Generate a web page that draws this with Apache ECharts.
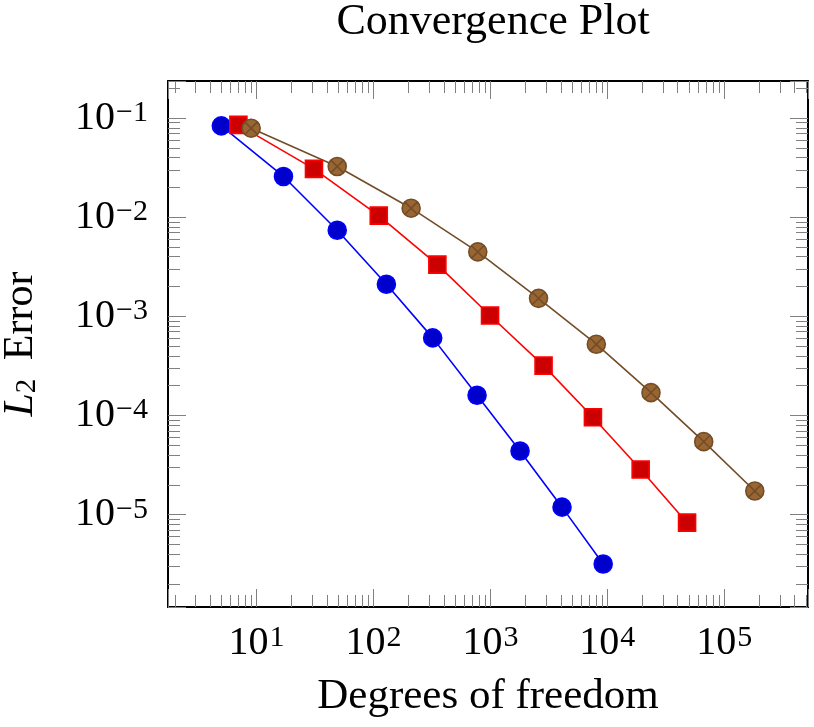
<!DOCTYPE html>
<html>
<head>
<meta charset="utf-8">
<script src="https://cdn.jsdelivr.net/npm/echarts@6/dist/echarts.min.js"></script>
<style>
html,body{margin:0;padding:0;background:#fff;}
#chart{width:814px;height:727px;}
</style>
</head>
<body>
<div id="chart"></div>
<script>
// data
var dofBlue = [5, 17, 49, 129, 321, 769, 1793, 4097, 9217];
var errBlue = [0.0836, 0.0258, 0.0074, 0.00211, 6.07e-4, 1.60e-4, 4.39e-5, 1.19e-5, 3.18e-6];
var dofRed = [7, 31, 111, 352, 993, 2849, 7530, 19280, 48060];
var errRed = [0.0855, 0.0308, 0.0104, 0.00333, 1.02e-3, 3.19e-4, 9.6e-5, 2.85e-5, 8.3e-6];
var dofBrown = [9, 49, 210, 780, 2581, 8050, 23620, 66700, 182400];
var errBrown = [0.0792, 0.0325, 0.01235, 0.00448, 1.52e-3, 5.24e-4, 1.70e-4, 5.45e-5, 1.73e-5];

var xMin = 1.75, xMax = 5.2e5;
var yMin = 1.17e-6, yMax = 0.237;

var FONT = "'Liberation Serif', 'DejaVu Serif', serif";
var tickColor = "#808080";
// circle with a cross (otimes)
var otimes = "path://M0,10 A10,10 0 1,1 20,10 A10,10 0 1,1 0,10 Z M2.93,2.93 L17.07,17.07 M17.07,2.93 L2.93,17.07";

function pairs(xs, ys){
    var out = [];
    for (var i = 0; i < xs.length; i++) out.push([xs[i], ys[i]]);
    return out;
}
function powLabel(v){
    var n = Math.round(Math.log(v) / Math.LN10);
    return "{b|10}{s|" + (n < 0 ? "\u2212" + (-n) : n) + "}";
}
var labelRich = {
    b: {fontFamily: FONT, fontSize: 40, lineHeight: 40, color: "#000"},
    s: {fontFamily: FONT, fontSize: 30, lineHeight: 12, verticalAlign: "top", color: "#000", padding: [0, 0, 0, 1]}
};

function logAxis(pos, min, max, showLabel){
    return {
        type: "log",
        logBase: 10,
        position: pos,
        min: min,
        max: max,
        axisLine: {show: true, onZero: false, lineStyle: {color: "#000", width: 2}},
        axisTick: {show: true, inside: true, length: 18, lineStyle: {color: tickColor, width: 1}},
        minorTick: {show: true, splitNumber: 9, length: 12, lineStyle: {color: tickColor, width: 1}},
        splitLine: {show: false},
        minorSplitLine: {show: false},
        axisLabel: {
            show: showLabel,
            showMinLabel: false,
            showMaxLabel: false,
            formatter: powLabel,
            rich: labelRich
        }
    };
}

var xBottom = logAxis("bottom", xMin, xMax, true);
xBottom.axisLabel.margin = 16;
xBottom.name = "Degrees of freedom";
xBottom.nameLocation = "middle";
xBottom.nameGap = 68;
xBottom.nameTextStyle = {fontFamily: FONT, fontSize: 43, color: "#000"};

var yLeft = logAxis("left", yMin, yMax, true);
yLeft.axisLabel.margin = 20;
yLeft.name = "{i|L}{sub|2} Error";
yLeft.nameLocation = "middle";
yLeft.nameGap = 126;
yLeft.nameTextStyle = {
    fontFamily: FONT, fontSize: 42, color: "#000",
    rich: {
        i: {fontFamily: FONT, fontSize: 42, fontStyle: "italic", color: "#000"},
        sub: {fontFamily: FONT, fontSize: 29, verticalAlign: "bottom", color: "#000", padding: [0, 8, 0, 0]}
    }
};

var chart = echarts.init(document.getElementById("chart"));
chart.setOption({
    animation: false,
    backgroundColor: "#fff",
    title: {
        text: "Convergence Plot",
        left: 488,
        top: -5,
        textAlign: "center",
        textStyle: {fontFamily: FONT, fontSize: 44, fontWeight: "normal", color: "#000"}
    },
    grid: {left: 168, right: 6, top: 81, bottom: 120, containLabel: false, outerBoundsMode: "none"},
    xAxis: [xBottom, logAxis("top", xMin, xMax, false)],
    yAxis: [yLeft, logAxis("right", yMin, yMax, false)],
    series: [
        {
            type: "line",
            data: pairs(dofBlue, errBlue),
            symbol: "circle",
            symbolSize: 18,
            lineStyle: {color: "#0000ff", width: 1.6},
            itemStyle: {color: "#0000cc", borderColor: "#0000ff", borderWidth: 1.6}
        },
        {
            type: "line",
            data: pairs(dofRed, errRed),
            symbol: "rect",
            symbolSize: 17,
            lineStyle: {color: "#ff0000", width: 1.6},
            itemStyle: {color: "#cc0000", borderColor: "#ff0000", borderWidth: 1.6}
        },
        {
            type: "line",
            data: pairs(dofBrown, errBrown),
            symbol: otimes,
            symbolSize: 18,
            lineStyle: {color: "#734d26", width: 1.6},
            itemStyle: {color: "#996633", borderColor: "#734d26", borderWidth: 1.6}
        }
    ]
});
</script>
</body>
</html>
